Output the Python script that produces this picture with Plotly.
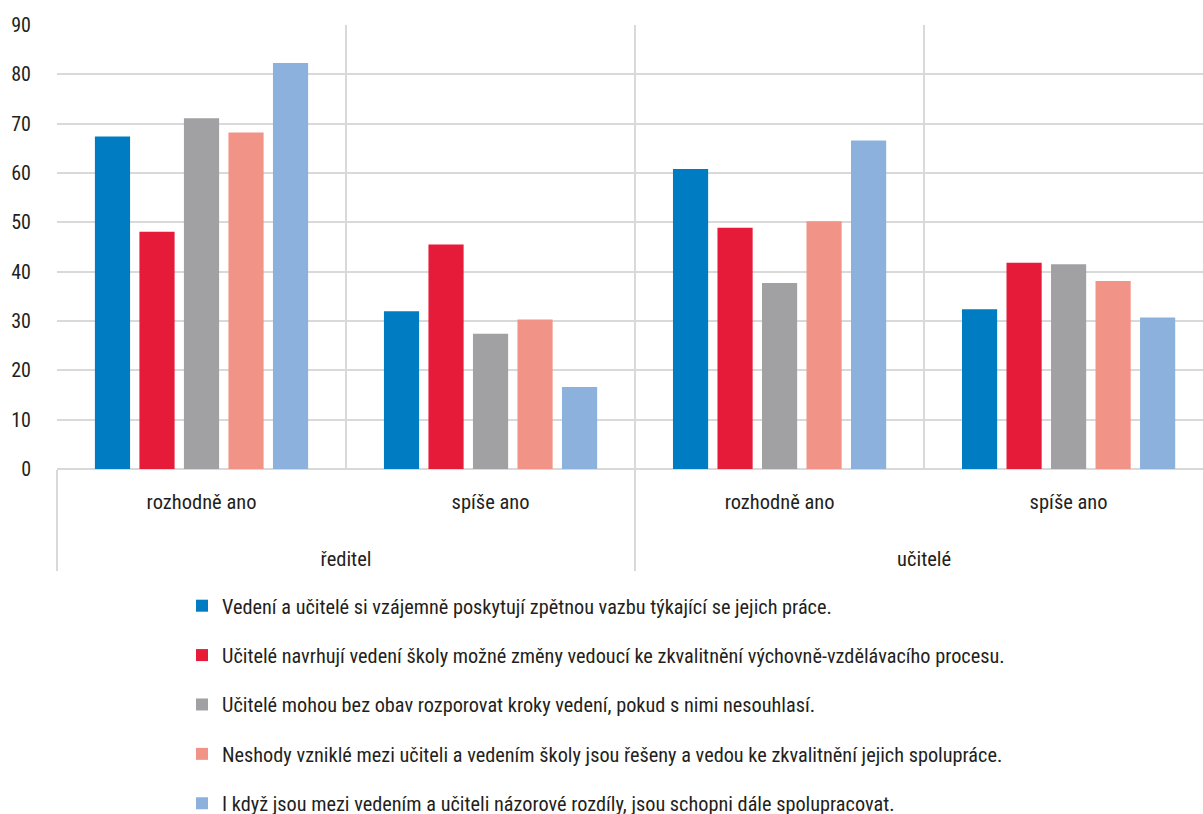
import plotly.graph_objects as go

outer = ["ředitel", "ředitel", "učitelé", "učitelé"]
inner = ["rozhodně ano", "spíše ano", "rozhodně ano", "spíše ano"]

series_names = [
    "Vedení a učitelé si vzájemně poskytují zpětnou vazbu týkající se jejich práce.",
    "Učitelé navrhují vedení školy možné změny vedoucí ke zkvalitnění výchovně-vzdělávacího procesu.",
    "Učitelé mohou bez obav rozporovat kroky vedení, pokud s nimi nesouhlasí.",
    "Neshody vzniklé mezi učiteli a vedením školy jsou řešeny a vedou ke zkvalitnění jejich spolupráce.",
    "I když jsou mezi vedením a učiteli názorové rozdíly, jsou schopni dále spolupracovat.",
]
s1 = [67.4, 32.0, 60.8, 32.4]
s2 = [48.1, 45.5, 48.9, 41.8]
s3 = [71.1, 27.4, 37.7, 41.5]
s4 = [68.2, 30.3, 50.2, 38.1]
s5 = [82.3, 16.6, 66.6, 30.7]
values = [s1, s2, s3, s4, s5]
colors = ["#007CC3", "#E61A39", "#A1A1A4", "#F19487", "#8CB1DC"]

y_ticks = [0, 10, 20, 30, 40, 50, 60, 70, 80, 90]

FONT = "Roboto Condensed, Liberation Sans Narrow, DejaVu Sans Condensed, Arial Narrow, sans-serif"

# inner labels get empty extra lines so the outer row sits lower (as in the reference)
inner_disp = [s + "<br>\u00a0<br><span style='font-size:6px'>\u00a0</span>" for s in inner]

fig = go.Figure()
for i, (name, vals, col) in enumerate(zip(series_names, values, colors)):
    fig.add_trace(go.Bar(
        x=[outer, inner_disp], y=vals, name=name,
        marker=dict(color=col, line=dict(width=0)),
        legendgroup=f"g{i}",
    ))

fig.update_layout(
    width=1203, height=814,
    margin=dict(l=57, r=0, t=25, b=345, autoexpand=False),
    paper_bgcolor="white", plot_bgcolor="white",
    font=dict(family=FONT, size=20, color="#231F20"),
    barmode="group", bargap=0.23, bargroupgap=0.21,
    showlegend=True,
    legend=dict(
        orientation="v", x=(182-57)/1146, xanchor="left",
        y=(469-586)/444, yanchor="top",
        traceorder="grouped", tracegroupgap=20,
        font=dict(family=FONT, size=20.3, color="#231F20"),
        bgcolor="rgba(0,0,0,0)",
    ),
)
fig.update_xaxes(
    type="multicategory", range=[-0.5, 3.465],
    tickson="boundaries", ticklen=0, tickangle=0,
    ticklabelstandoff=18,
    showgrid=True, gridcolor="#D9D9D9", gridwidth=1.5,
    showdividers=True, dividercolor="#D9D9D9", dividerwidth=1.5,
    showline=False, zeroline=False,
    tickfont=dict(family=FONT, size=20.5, color="#231F20"),
)
fig.update_yaxes(
    range=[0, 90], tickvals=y_ticks,
    showgrid=True, gridcolor="#D9D9D9", gridwidth=1.5,
    zeroline=True, zerolinecolor="#D9D9D9", zerolinewidth=1.5,
    showline=False, ticks="", ticklabelstandoff=25,
    tickfont=dict(family=FONT, size=20, color="#231F20"),
)

fig.write_html("out.html", config={"displayModeBar": False},
               post_script="document.body.style.margin='0px';")
